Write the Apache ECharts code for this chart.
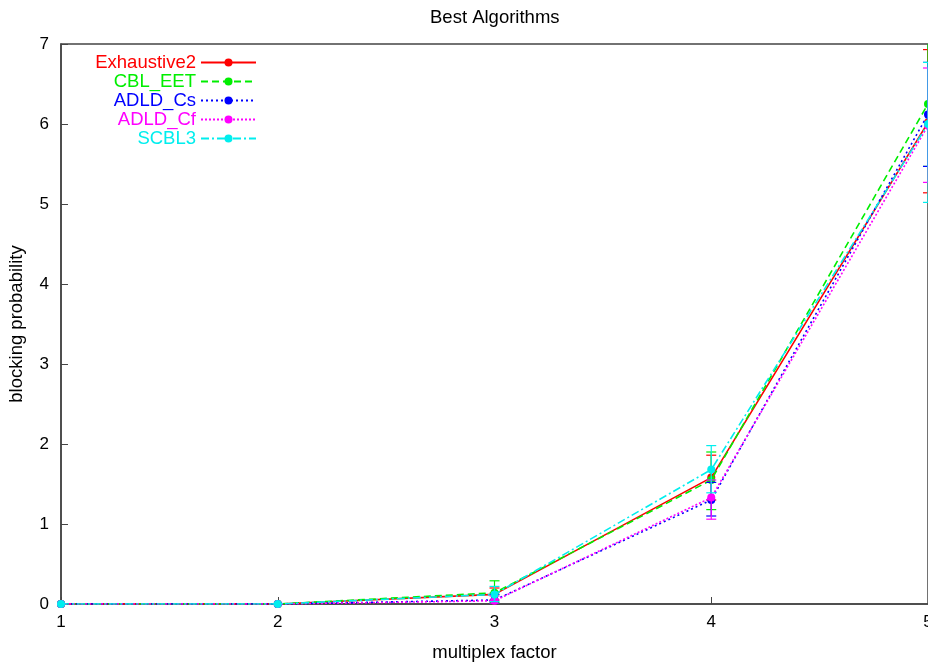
<!DOCTYPE html>
<html>
<head>
<meta charset="utf-8">
<script src="https://cdn.jsdelivr.net/npm/echarts@6/dist/echarts.min.js"></script>
<style>html,body{margin:0;padding:0;background:#fff}#chart{width:928px;height:665px}</style>
</head>
<body>
<div id="chart"></div>
<script>
const xValues = [1, 2, 3, 4, 5];
const xTicks = ['1', '2', '3', '4', '5'];
const yTicks = ['0', '1', '2', '3', '4', '5', '6', '7'];
const seriesNames = ['Exhaustive2', 'CBL_EET', 'ADLD_Cs', 'ADLD_Cf', 'SCBL3'];
const exhaustive2 = [0, 0, 0.12, 1.58, 6.02];
const exhaustive2Low = [0, 0, 0.05, 1.30, 5.14];
const exhaustive2High = [0, 0, 0.20, 1.86, 6.93];
const cblEet = [0, 0, 0.14, 1.55, 6.25];
const cblEetLow = [0, 0, 0.02, 1.18, 5.47];
const cblEetHigh = [0, 0, 0.29, 1.90, 7.05];
const adldCs = [0, 0, 0.05, 1.30, 6.12];
const adldCsLow = [0, 0, 0.00, 1.10, 5.47];
const adldCsHigh = [0, 0, 0.12, 1.52, 6.77];
const adldCf = [0, 0, 0.04, 1.33, 5.98];
const adldCfLow = [0, 0, 0.00, 1.06, 5.27];
const adldCfHigh = [0, 0, 0.10, 1.55, 6.70];
const scbl3 = [0, 0, 0.12, 1.68, 6.00];
const scbl3Low = [0, 0, 0.03, 1.39, 5.02];
const scbl3High = [0, 0, 0.22, 1.98, 6.77];

const colors = ['#ff0000', '#00ee00', '#0000ff', '#ff00ff', '#00eeee'];
const dashes = ['solid', [7, 4], [2, 3], [2, 2], [8, 3, 2, 3]];
const values = [exhaustive2, cblEet, adldCs, adldCf, scbl3];
const lows = [exhaustive2Low, cblEetLow, adldCsLow, adldCfLow, scbl3Low];
const highs = [exhaustive2High, cblEetHigh, adldCsHigh, adldCfHigh, scbl3High];

const FONT = '"Liberation Sans", Arial, sans-serif';
const series = [];
seriesNames.forEach((name, i) => {
  series.push({
    name: name,
    type: 'line',
    data: xValues.map((x, j) => [x, values[i][j]]),
    symbol: 'circle',
    symbolSize: 8,
    color: colors[i],
    lineStyle: { width: 1.6, type: dashes[i], color: colors[i] },
    itemStyle: { color: colors[i] },
    z: 3 + i,
    animation: false
  });
});
seriesNames.forEach((name, i) => {
  series.push({
    name: name,
    type: 'custom',
    clip: true,
    z: 3 + i,
    animation: false,
    data: xValues.map((x, j) => [x, lows[i][j], highs[i][j]]),
    renderItem: function (params, api) {
      const x = api.value(0);
      const lo = api.coord([x, api.value(1)]);
      const hi = api.coord([x, api.value(2)]);
      const w = 5;
      const style = { stroke: colors[i], lineWidth: 1.2, fill: null };
      return {
        type: 'group',
        children: [
          { type: 'line', shape: { x1: lo[0], y1: lo[1], x2: hi[0], y2: hi[1] }, style: style },
          { type: 'line', shape: { x1: lo[0] - w, y1: lo[1], x2: lo[0] + w, y2: lo[1] }, style: style },
          { type: 'line', shape: { x1: hi[0] - w, y1: hi[1], x2: hi[0] + w, y2: hi[1] }, style: style }
        ]
      };
    }
  });
});

const chart = echarts.init(document.getElementById('chart'), null, { renderer: 'canvas' });
chart.setOption({
  backgroundColor: '#ffffff',
  animation: false,
  title: {
    text: 'Best Algorithms',
    left: 425,
    top: 3,
    textStyle: { fontFamily: FONT, fontSize: 18.5, fontWeight: 'normal', color: '#000' }
  },
  legend: {
    orient: 'vertical',
    left: 90,
    top: 48,
    align: 'right',
    itemWidth: 55,
    itemHeight: 10,
    itemGap: 0,
    data: seriesNames.map((n, i) => ({ name: n, textStyle: { color: colors[i] } })),
    textStyle: { fontFamily: FONT, fontSize: 18.5, lineHeight: 19, width: 101, align: 'right' }
  },
  grid: {
    left: 61, right: 0, top: 44, bottom: 61,
    outerBoundsMode: 'none',
    containLabel: false,
    show: true, borderColor: '#444', borderWidth: 1.5, backgroundColor: 'transparent'
  },
  xAxis: {
    type: 'value',
    min: 1, max: 5, interval: 1,
    name: 'multiplex factor',
    nameLocation: 'middle',
    nameGap: 39,
    nameTextStyle: { fontFamily: FONT, fontSize: 18.5, color: '#000' },
    axisLine: { show: true, lineStyle: { color: '#444', width: 1.5 } },
    axisTick: { inside: true, length: 7, lineStyle: { color: '#444' } },
    axisLabel: {
      fontFamily: FONT, fontSize: 17, color: '#000', margin: 10,
      formatter: v => xTicks[xValues.indexOf(v)] ?? ''
    },
    splitLine: { show: false }
  },
  yAxis: {
    type: 'value',
    min: 0, max: 7, interval: 1,
    name: 'blocking probability',
    nameLocation: 'middle',
    nameGap: 35,
    nameRotate: 90,
    nameTextStyle: { fontFamily: FONT, fontSize: 18.5, color: '#000' },
    axisLine: { show: true, lineStyle: { color: '#444', width: 1.5 } },
    axisTick: { inside: true, length: 7, lineStyle: { color: '#444' } },
    axisLabel: {
      fontFamily: FONT, fontSize: 17, color: '#000', margin: 12,
      formatter: v => yTicks[v] ?? ''
    },
    splitLine: { show: false }
  },
  series: series
});
</script>
</body>
</html>
